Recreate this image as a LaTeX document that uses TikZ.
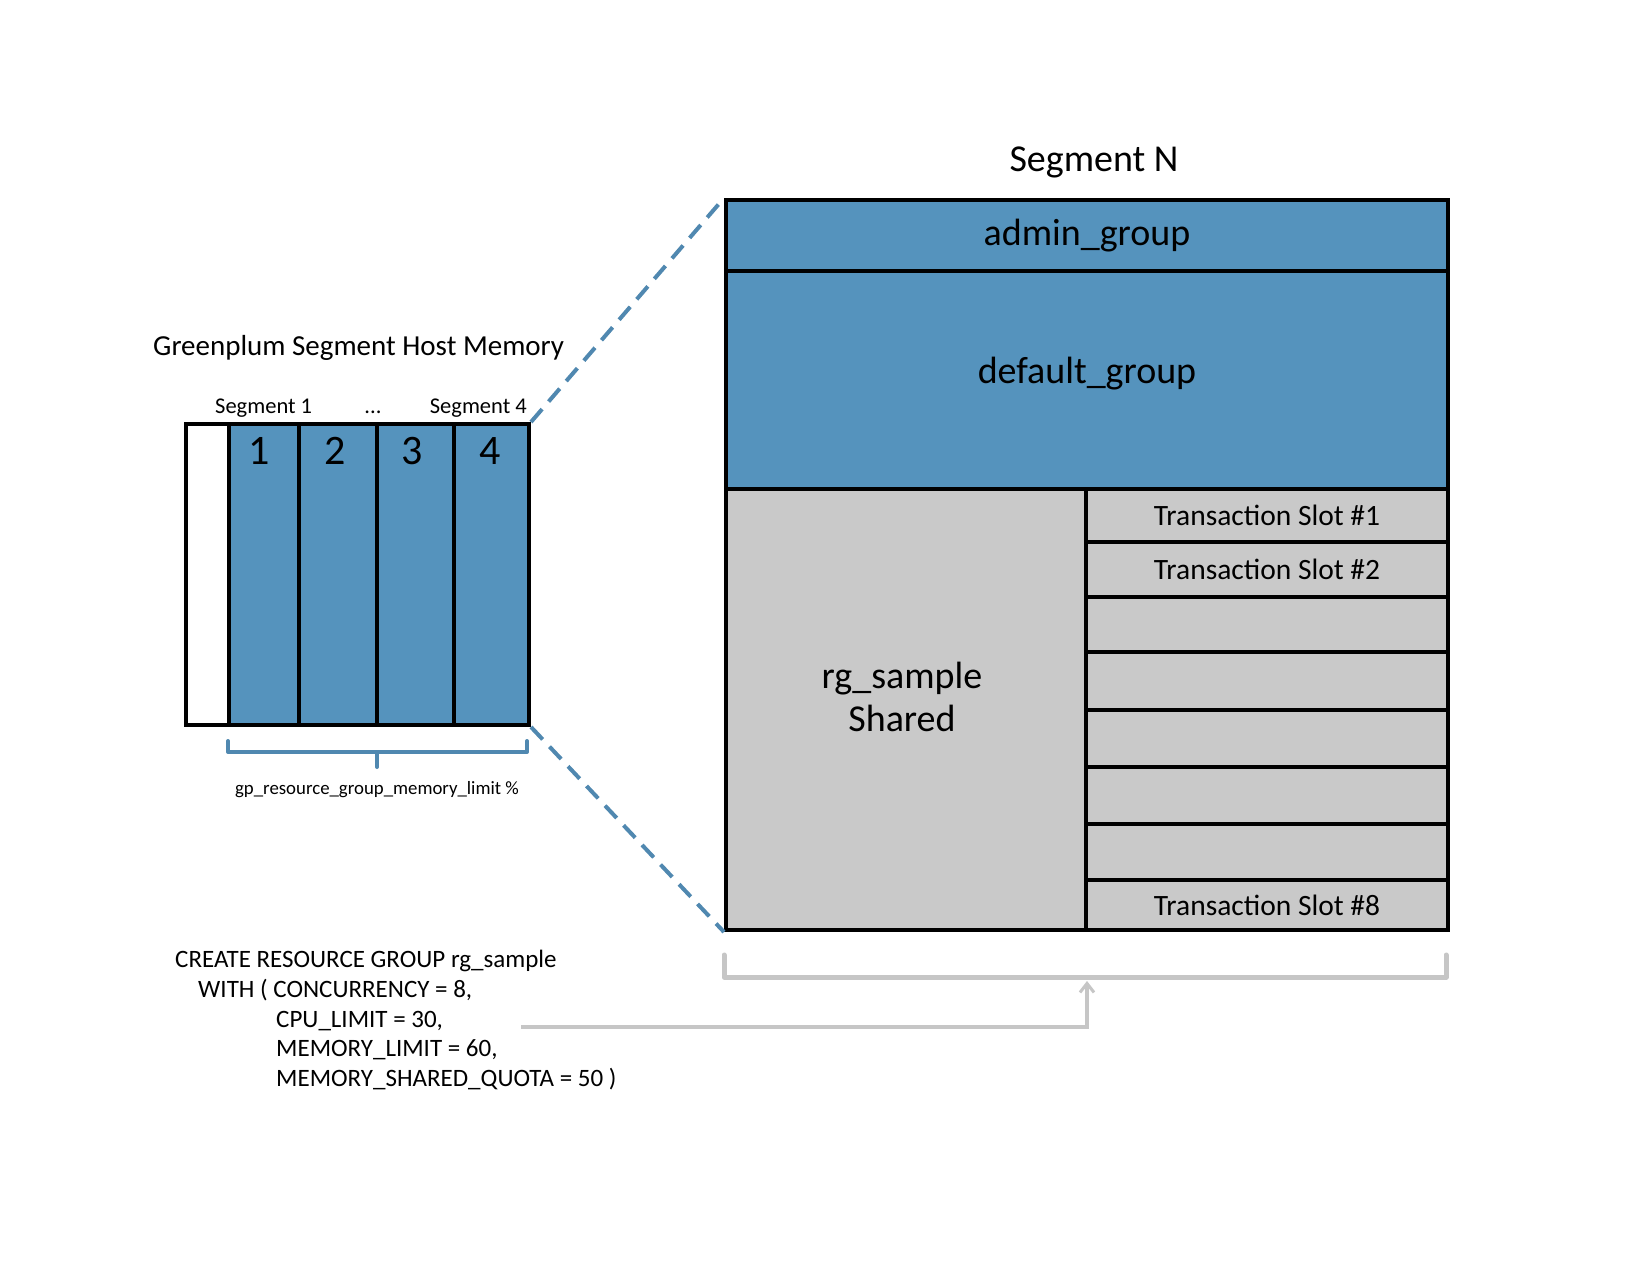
\documentclass[tikz,border=0pt]{standalone}
\usepackage{fontspec}
\setmainfont{Carlito}
\usetikzlibrary{arrows.meta}
\definecolor{gpblue}{HTML}{5593BD}
\definecolor{gpgray}{HTML}{C9C9C9}
\definecolor{dashblue}{HTML}{5088B0}
\definecolor{bracegray}{HTML}{C6C6C6}
\newcommand\gpTitle{\fontsize{29}{34}\selectfont}
\newcommand\gpBig{\fontsize{38}{43}\selectfont}
\newcommand\gpSlot{\fontsize{29.5}{34}\selectfont}
\newcommand\gpSeg{\fontsize{22.5}{26}\selectfont}
\newcommand\gpTiny{\fontsize{18.8}{22}\selectfont}
\newcommand\gpDigit{\fontsize{42}{48}\selectfont}
\newcommand\gpCode{\fontsize{25}{29.8}\selectfont}
\begin{document}
\begin{tikzpicture}[x=1pt,y=-1pt,
  cell/.style={draw=black, line width=4pt, inner sep=0pt, anchor=north west},
  bluecell/.style={cell, fill=gpblue},
  graycell/.style={cell, fill=gpgray},
  plain/.style={inner sep=0pt, text=black},
  dashln/.style={draw=dashblue, line width=4pt, dash pattern=on 17pt off 10pt},
  bluebrace/.style={draw=dashblue, line width=4pt, line join=round, line cap=round},
  graybrace/.style={draw=bracegray, line width=5pt, line join=round, line cap=round},
  grayarrow/.style={draw=bracegray, line width=4pt, -{Straight Barb[length=9pt,width=14pt,line width=3pt]}}
]
\useasboundingbox[fill=white] (0,0) rectangle (1650,1275);

% ---------- left: host memory ----------
\node[plain, anchor=base west] (title) at (153,355) {\gpTitle Greenplum Segment Host Memory};
\node[cell, fill=white, minimum width=43pt, minimum height=301pt] (free) at (184,422) {};
\node[bluecell, minimum width=70pt, minimum height=301pt] (c1) at (227,422) {};
\node[bluecell, minimum width=78pt, minimum height=301pt] (c2) at (297,422) {};
\node[bluecell, minimum width=77pt, minimum height=301pt] (c3) at (375,422) {};
\node[bluecell, minimum width=75pt, minimum height=301pt] (c4) at (452,422) {};
\node[plain, anchor=base] (d1) at (259,464) {\gpDigit 1};
\node[plain, anchor=base] (d2) at (335,464) {\gpDigit 2};
\node[plain, anchor=base] (d3) at (412,464) {\gpDigit 3};
\node[plain, anchor=base] (d4) at (490,464) {\gpDigit 4};
\node[plain, anchor=base west] (s1) at (215,413) {\gpSeg Segment 1};
\node[plain, anchor=base] (sdots) at (373,413) {\gpSeg ...};
\node[plain, anchor=base east] (s4) at (527,413) {\gpSeg Segment 4};

\draw[bluebrace] (228,741) -- (228,752) -- (527,752) -- (527,741);
\draw[bluebrace] (377,752) -- (377,767);
\node[plain, anchor=base] (gplim) at (377,794) {\gpTiny gp\_resource\_group\_memory\_limit \%};

% ---------- right: segment N ----------
\node[plain, anchor=base] (segN) at (1094,171) {\gpBig Segment N};
\node[bluecell, minimum width=722pt, minimum height=71pt] (admin) at (724,198) {\gpBig admin\_group};
\node[bluecell, minimum width=722pt, minimum height=218pt] (default) at (724,269) {};
\node[plain] (deftext) at (1087,374) {\gpBig default\_group};
\node[graycell, minimum width=360pt, minimum height=441pt] (rgs) at (724,487) {};
\node[plain, align=center, font=\gpBig] (rgtext) at (902,697) {rg\_sample\\Shared};
\node[graycell, minimum width=362pt, minimum height=53pt] (t1) at (1084,487) {\gpSlot Transaction Slot \#1};
\node[graycell, minimum width=362pt, minimum height=55pt] (t2) at (1084,540) {\gpSlot Transaction Slot \#2};
\node[graycell, minimum width=362pt, minimum height=55pt] (t3) at (1084,595) {};
\node[graycell, minimum width=362pt, minimum height=58pt] (t4) at (1084,650) {};
\node[graycell, minimum width=362pt, minimum height=57pt] (t5) at (1084,708) {};
\node[graycell, minimum width=362pt, minimum height=57pt] (t6) at (1084,765) {};
\node[graycell, minimum width=362pt, minimum height=56pt] (t7) at (1084,822) {};
\node[graycell, minimum width=362pt, minimum height=50pt] (t8) at (1084,878) {\gpSlot Transaction Slot \#8};

% zoom lines
\draw[dashln] (c4.north east) -- (admin.north west);
\draw[dashln] (c4.south east) -- (rgs.south west);

% ---------- bottom: SQL ----------
\node[plain, anchor=north west, align=left, font=\gpCode] (sql) at (175,950) {CREATE RESOURCE GROUP rg\_sample\\
\hspace*{23pt}WITH ( CONCURRENCY = 8,\\
\hspace*{101pt}CPU\_LIMIT = 30,\\
\hspace*{101pt}MEMORY\_LIMIT = 60,\\
\hspace*{101pt}MEMORY\_SHARED\_QUOTA = 50 )};

\draw[graybrace] (724,955) -- (724,977) -- (1446,977) -- (1446,955);
\coordinate (bmid) at (1087,981);
\coordinate (astart) at (521,1027);
\draw[grayarrow] (astart) -| (bmid);
\end{tikzpicture}
\end{document}
